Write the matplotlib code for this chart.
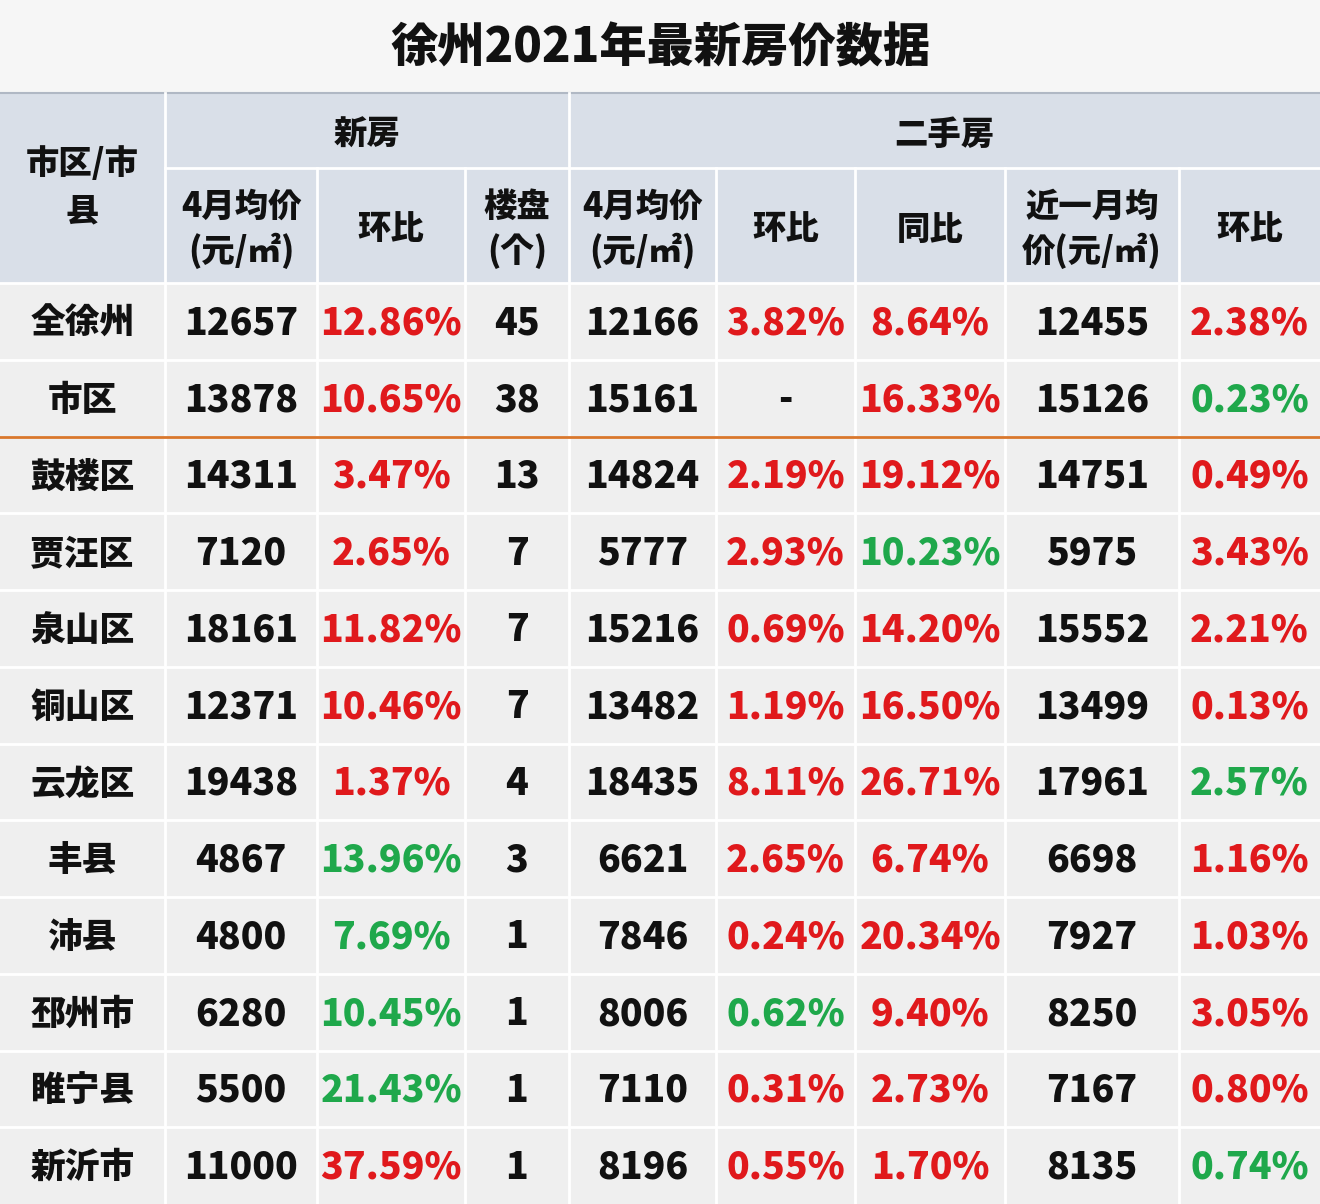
import matplotlib
matplotlib.use("Agg")
import matplotlib.pyplot as plt
from matplotlib.patches import Rectangle
from matplotlib import font_manager

title = "徐州2021年最新房价数据"
regions = ["全徐州","市区","鼓楼区","贾汪区","泉山区","铜山区","云龙区","丰县","沛县","邳州市","睢宁县","新沂市"]
new_price = ["12657","13878","14311","7120","18161","12371","19438","4867","4800","6280","5500","11000"]
new_mom = ["12.86%","10.65%","3.47%","2.65%","11.82%","10.46%","1.37%","13.96%","7.69%","10.45%","21.43%","37.59%"]
new_mom_c = "rrrrrrrggggr"
projects = ["45","38","13","7","7","7","4","3","1","1","1","1"]
used_price = ["12166","15161","14824","5777","15216","13482","18435","6621","7846","8006","7110","8196"]
used_mom = ["3.82%","-","2.19%","2.93%","0.69%","1.19%","8.11%","2.65%","0.24%","0.62%","0.31%","0.55%"]
used_mom_c = "rkrrrrrrrgrr"
used_yoy = ["8.64%","16.33%","19.12%","10.23%","14.20%","16.50%","26.71%","6.74%","20.34%","9.40%","2.73%","1.70%"]
used_yoy_c = "rrrgrrrrrrrr"
recent_price = ["12455","15126","14751","5975","15552","13499","17961","6698","7927","8250","7167","8135"]
recent_mom = ["2.38%","0.23%","0.49%","3.43%","2.21%","0.13%","2.57%","1.16%","1.03%","3.05%","0.80%","0.74%"]
recent_mom_c = "rgrrrrgrrrrg"

names = {f.name for f in font_manager.fontManager.ttflist}
FONT = [n for n in ["Noto Sans CJK SC", "Noto Sans CJK JP", "Noto Sans CJK TC", "Noto Sans CJK KR", "DejaVu Sans"] if n in names] or ["DejaVu Sans"]

W, H = 1320, 1204
fig = plt.figure(figsize=(13.2, 12.04), dpi=100)
ax = fig.add_axes([0, 0, 1, 1])
ax.set_xlim(0, W); ax.set_ylim(H, 0); ax.axis("off")
cols = [0,165,317,465,569,716,855,1005,1179,1320]
HDR_BG = "#d9dfe8"; DATA_BG = "#efefef"; LINE = "white"
RED = "#e0191c"; GREEN = "#1fa84b"; BLK = "#111111"
cmap = {"r": RED, "g": GREEN, "k": BLK}

ax.add_patch(Rectangle((0,0), W, 93, color="#f6f6f6"))
ax.text(W/2, 48, title, ha="center", va="center", fontsize=34, fontweight="heavy", family=FONT, color=BLK)
ax.add_patch(Rectangle((0,93), W, 190, color=HDR_BG))
y0 = 283; rh = (H - y0) / 12
ax.add_patch(Rectangle((0,y0), W, H-y0, color=DATA_BG))

def txt(x, y, s, c=BLK, fs=27, ls=1.2):
    ax.text(x, y, s, ha="center", va="center", fontsize=fs, fontweight="heavy", family=FONT, color=c, linespacing=ls)

txt(82, 187, "市区/市\n县", fs=24, ls=1.45)
txt((165+569)/2, 134, "新房", fs=24)
txt((569+1320)/2, 134, "二手房", fs=24)
subs = ["4月均价\n(元/㎡)","环比","楼盘\n(个)","4月均价\n(元/㎡)","环比","同比","近一月均\n价(元/㎡)","环比"]
for i, s in enumerate(subs):
    txt((cols[i+1]+cols[i+2])/2, 229, s, fs=24, ls=1.3)
lw = 2
ax.plot([0, W], [93, 93], color="#b0b8c4", lw=1.5)
ax.plot([165, W], [168, 168], color=LINE, lw=lw)
for x in cols[1:-1]:
    top = 93 if x in (165, 569) else 168
    ax.plot([x, x], [top, H], color=LINE, lw=lw)
for i in range(12):
    ax.plot([0, W], [y0 + i*rh, y0 + i*rh], color=LINE, lw=lw)
ax.plot([0, W], [y0 + 2*rh, y0 + 2*rh], color="#d9772c", lw=2)

for i in range(12):
    yc = y0 + (i+0.5)*rh + 2
    cells = [(regions[i], "k"), (new_price[i], "k"), (new_mom[i], new_mom_c[i]), (projects[i], "k"),
             (used_price[i], "k"), (used_mom[i], used_mom_c[i]), (used_yoy[i], used_yoy_c[i]),
             (recent_price[i], "k"), (recent_mom[i], recent_mom_c[i])]
    for j, (s, c) in enumerate(cells):
        txt((cols[j]+cols[j+1])/2, yc, s, cmap[c], fs=25 if j == 0 else 27)

fig.savefig("out.png", dpi=100)
